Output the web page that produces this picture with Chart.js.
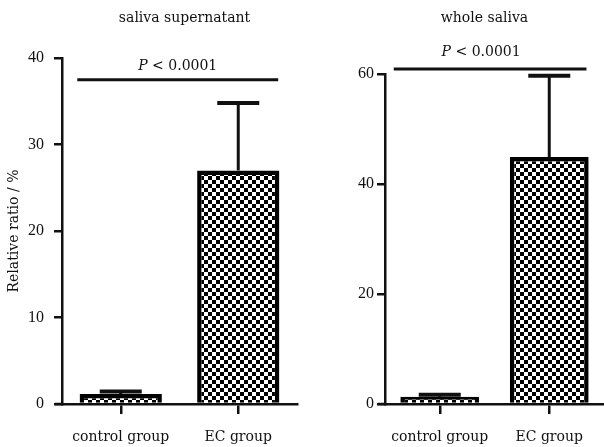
<!DOCTYPE html>
<html>
<head>
<meta charset="utf-8">
<script src="https://cdn.jsdelivr.net/npm/chart.js@4.4.1/dist/chart.umd.min.js"></script>
<style>
  html, body { margin: 0; padding: 0; background: #fff; }
  #wrap { position: relative; width: 604px; height: 447px; overflow: hidden; }
  .panel { position: absolute; top: 0; height: 447px; }
  #left { left: 0; width: 300px; }
  #right { left: 300px; width: 304px; }
</style>
</head>
<body>
<div id="wrap">
  <div class="panel" id="left"><canvas id="chartA"></canvas></div>
  <div class="panel" id="right"><canvas id="chartB"></canvas></div>
</div>
<script>
// ── data ──
const categories = ['control group', 'EC group'];

const supernatantTitle = 'saliva supernatant';
const supernatantMean = [1.15, 27.0];
const supernatantErr = [0.3, 7.8];
const supernatantMax = 40;
const supernatantStep = 10;
const supernatantPLevel = 37.5;

const wholeTitle = 'whole saliva';
const wholeMean = [1.3, 44.9];
const wholeErr = [0.4, 14.8];
const wholeMax = 60;
const wholeStep = 20;
const wholePLevel = 60.9;

const pText = '< 0.0001';
const yTitle = 'Relative ratio / %';

const FONT = "'DejaVu Serif', 'Liberation Serif', serif";
const NUMFONT = "'Liberation Serif', 'DejaVu Serif', serif";
const INK = '#111';

function checker() {
  const c = document.createElement('canvas');
  c.width = c.height = 8;
  const g = c.getContext('2d');
  g.fillStyle = '#fff';
  g.fillRect(0, 0, 8, 8);
  g.fillStyle = '#000';
  g.fillRect(0, 0, 4, 4);
  g.fillRect(4, 4, 4, 4);
  return g.createPattern(c, 'repeat');
}

// error bars, significance line, panel title
const decor = {
  id: 'decor',
  afterDatasetsDraw(chart, args, opts) {
    const ctx = chart.ctx;
    const y = chart.scales.y, x = chart.scales.x;
    const area = chart.chartArea;
    const meta = chart.getDatasetMeta(0);
    ctx.save();
    ctx.strokeStyle = INK;
    ctx.lineCap = 'butt';

    // extend x axis to the left, past the y axis
    ctx.lineWidth = 2.5;
    ctx.beginPath();
    ctx.moveTo(area.left - opts.axisOverhang, area.bottom);
    ctx.lineTo(area.left, area.bottom);
    ctx.stroke();

    // upper error bars
    meta.data.forEach((bar, i) => {
      const top = y.getPixelForValue(opts.mean[i] + opts.err[i]);
      ctx.lineWidth = 3;
      ctx.beginPath();
      ctx.moveTo(bar.x, bar.y);
      ctx.lineTo(bar.x, top);
      ctx.stroke();
      ctx.lineWidth = 4;
      ctx.beginPath();
      ctx.moveTo(bar.x - opts.cap / 2, top);
      ctx.lineTo(bar.x + opts.cap / 2, top);
      ctx.stroke();
    });

    // significance line
    const ly = y.getPixelForValue(opts.pLevel);
    const x0 = x.getPixelForValue(opts.pFrom), x1 = x.getPixelForValue(opts.pTo);
    ctx.lineWidth = 3;
    ctx.beginPath();
    ctx.moveTo(x0, ly);
    ctx.lineTo(x1, ly);
    ctx.stroke();

    // "P < 0.0001"
    ctx.fillStyle = INK;
    ctx.textBaseline = 'alphabetic';
    ctx.font = 'italic 14px ' + FONT;
    const wP = ctx.measureText('P ').width;
    ctx.font = '14px ' + FONT;
    const wR = ctx.measureText(pText).width;
    const cx = (x0 + x1) / 2 + opts.pShift;
    const tx = cx - (wP + wR) / 2;
    const ty = ly - opts.pGap;
    ctx.font = 'italic 14px ' + FONT;
    ctx.fillText('P ', tx, ty);
    ctx.font = '14px ' + FONT;
    ctx.fillText(pText, tx + wP, ty);

    // panel title
    ctx.font = '14px ' + FONT;
    ctx.textAlign = 'center';
    ctx.fillText(opts.title, (area.left + area.right) / 2 + opts.titleShift, opts.titleY);
    ctx.restore();
  }
};

function makeChart(id, mean, err, max, step, opt) {
  const pat = checker();
  return new Chart(document.getElementById(id), {
    type: 'bar',
    data: {
      labels: categories,
      datasets: [{
        data: mean,
        backgroundColor: pat,
        borderColor: '#000',
        borderWidth: 4.5,
        borderSkipped: 'bottom',
        categoryPercentage: 1,
        barPercentage: opt.barPct
      }]
    },
    options: {
      responsive: true,
      maintainAspectRatio: false,
      animation: false,
      layout: { padding: { top: opt.top, right: opt.right, left: 0, bottom: 0 } },
      plugins: {
        legend: { display: false },
        tooltip: { enabled: false },
        decor: {
          mean, err,
          cap: 42,
          pLevel: opt.pLevel, pFrom: opt.pFrom, pTo: opt.pTo,
          pShift: opt.pShift, pGap: opt.pGap,
          title: opt.title, titleY: 22, titleShift: opt.titleShift,
          axisOverhang: 7
        }
      },
      scales: {
        x: {
          afterFit: s => { s.height = 43; },
          grid: {
            display: true, drawOnChartArea: false, offset: false,
            color: INK, lineWidth: 2.5, tickLength: 10
          },
          border: { display: true, color: INK, width: 2.5 },
          ticks: { color: INK, padding: 15, font: { family: FONT, size: 14 } }
        },
        y: {
          min: 0, max: max,
          afterFit: s => { s.width = opt.yWidth; },
          grid: {
            display: true, drawOnChartArea: false,
            color: INK, lineWidth: 2.5, tickLength: 8
          },
          border: { display: true, color: INK, width: 2.5 },
          ticks: { stepSize: step, color: INK, padding: opt.tickPad, font: { family: NUMFONT, size: 16 } },
          title: {
            display: !!opt.yTitle, text: opt.yTitle || '', color: INK,
            font: { family: FONT, size: 14 }, padding: { top: 6, bottom: 0 }
          }
        }
      }
    },
    plugins: [decor]
  });
}

makeChart('chartA', supernatantMean, supernatantErr, supernatantMax, supernatantStep, {
  top: 58, right: 3, yWidth: 62, tickPad: 10, barPct: 0.7,
  pLevel: supernatantPLevel, pFrom: -0.37, pTo: 1.34, pShift: 0, pGap: 10,
  title: supernatantTitle, titleShift: 5, yTitle: yTitle
});

makeChart('chartB', wholeMean, wholeErr, wholeMax, wholeStep, {
  top: 74, right: 0, yWidth: 85, tickPad: 3, barPct: 0.72,
  pLevel: wholePLevel, pFrom: -0.42, pTo: 1.34, pShift: -9, pGap: 13,
  title: wholeTitle, titleShift: -10, yTitle: ''
});
</script>
</body>
</html>
